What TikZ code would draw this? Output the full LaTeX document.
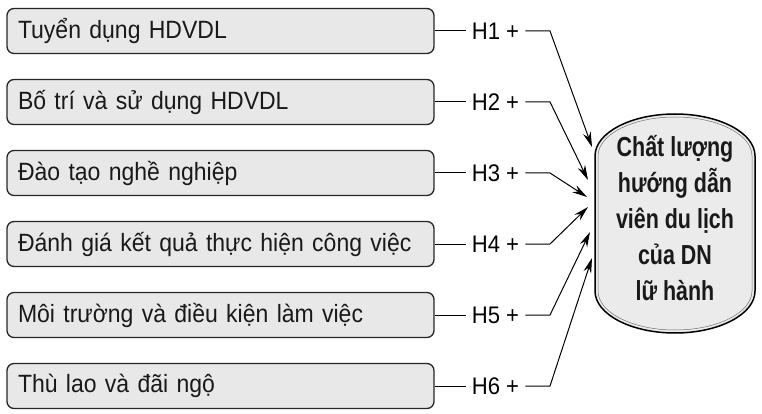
\documentclass[tikz,border=0pt]{standalone}
\usepackage{fontspec}
\setmainfont{Liberation Sans}[FakeStretch=0.92]
\newfontfamily\narrowfont[FakeStretch=0.78]{Liberation Sans}
\usetikzlibrary{arrows.meta,positioning}

\begin{document}
\begin{tikzpicture}[x=1pt,y=-1pt]
	\useasboundingbox (0,0) rectangle (762,414);
	\tikzset{hyp/.style={inner xsep=6pt,inner ysep=2pt,font=\fontsize{24}{28}\selectfont},
		conn/.style={line width=1pt,black}}

	\begin{scope}[every node/.style={rectangle,draw=black!85,line width=1.3pt,rounded corners=7pt,fill=black!9,minimum height=45pt,text width=405pt,inner xsep=11pt,inner ysep=0pt,align=left,text=black!90,font=\fontsize{25}{30}\selectfont}]
		\node (F1) at (220.5,31) {Tuyển dụng HDVDL};
		\node[below=24.7pt of F1] (F2) {Bố trí và sử dụng HDVDL};
		\node[below=24.7pt of F2] (F3) {Đào tạo nghề nghiệp};
		\node[below=24.7pt of F3] (F4) {Đánh giá kết quả thực hiện công việc};
		\node[below=24.7pt of F4] (F5) {Môi trường và điều kiện làm việc};
		\node[below=24.7pt of F5] (F6) {Thù lao và đãi ngộ};
	\end{scope}

	% the outcome, a stadium with a double outline
	\draw[line width=1.5pt,fill=black!8] (595,156) arc[start angle=180,end angle=360,x radius=80,y radius=42] -- (755,291) arc[start angle=0,end angle=180,x radius=80,y radius=42] -- cycle;
	\draw[line width=0.5pt,black!55] (598,156) arc[start angle=180,end angle=360,x radius=77,y radius=39] -- (752,291) arc[start angle=0,end angle=180,x radius=77,y radius=39] -- cycle;
	\node[align=center,text=black!90,font=\narrowfont\bfseries\fontsize{27.5}{36}\selectfont] (Q) at (675,218) {Chất lượng\\hướng dẫn\\viên du lịch\\của DN\\lữ hành};

	\foreach \i in {1,...,6}{
		\node[hyp,right=31pt of F\i] (H\i) {H\i\ +};
		\draw[conn] (F\i) -- (H\i);
	}

	\coordinate (k1) at (550,31);  \coordinate (e1) at (592,147);
	\coordinate (k2) at (550,102); \coordinate (e2) at (588,180);
	\coordinate (k3) at (550,173); \coordinate (e3) at (587,197);
	\coordinate (k4) at (550,244); \coordinate (e4) at (588,207);
	\coordinate (k5) at (550,315); \coordinate (e5) at (590,232);
	\coordinate (k6) at (550,386); \coordinate (e6) at (592,258);

	\foreach \i in {1,...,6}
		\draw[conn,-{Stealth[length=15pt,width=8pt]}] (H\i) -- (k\i) -- (e\i);
\end{tikzpicture}
\end{document}
